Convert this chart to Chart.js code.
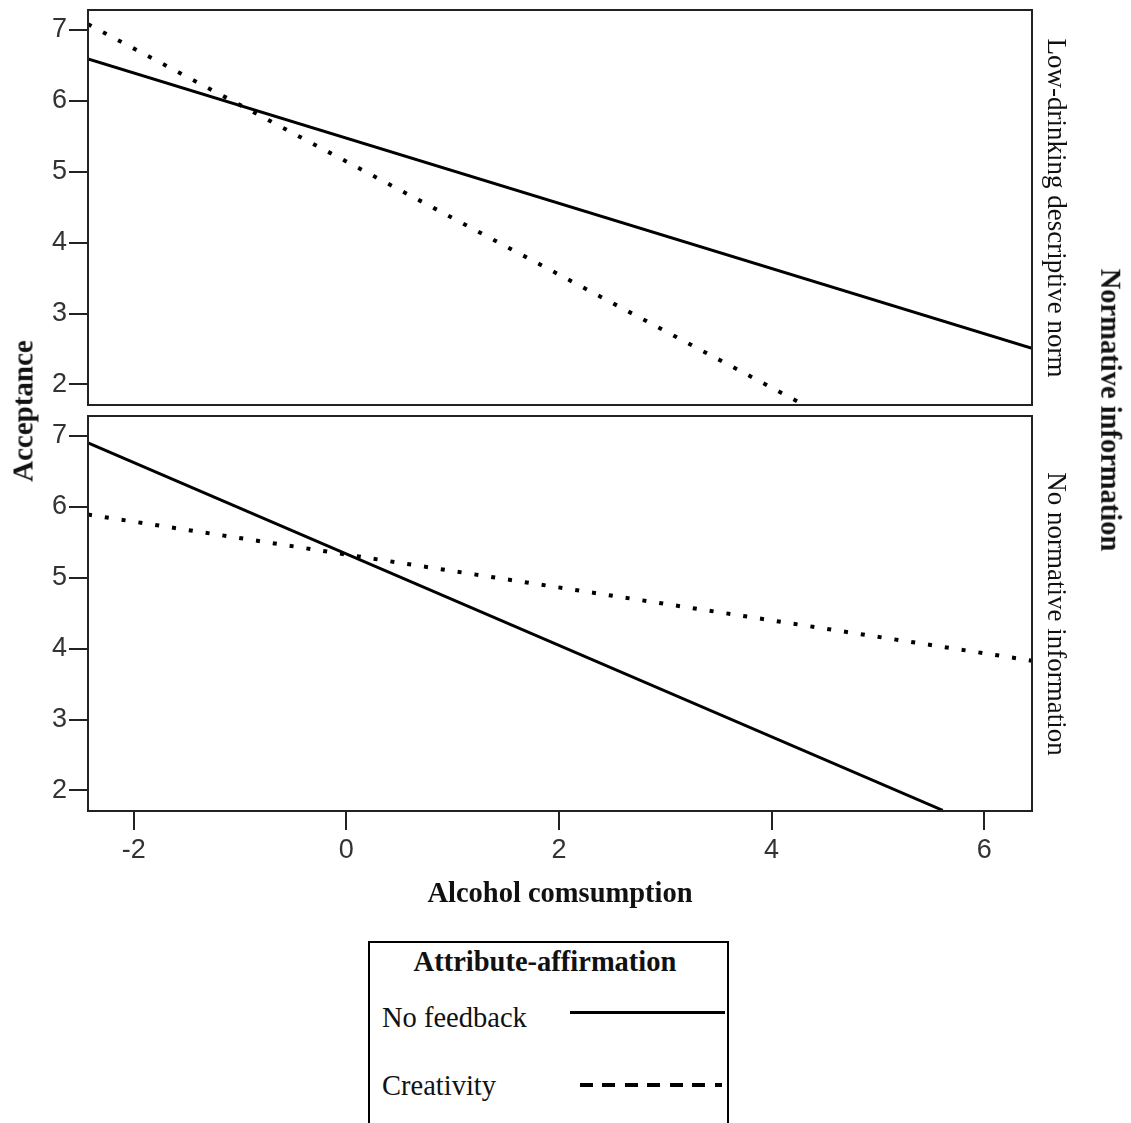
<!DOCTYPE html>
<html>
<head>
<meta charset="utf-8">
<script src="https://cdn.jsdelivr.net/npm/chart.js@4.4.1/dist/chart.umd.min.js"></script>
<style>
  body { margin: 0; background: #fff; }
  #page { position: relative; width: 1131px; height: 1123px; overflow: hidden; background: #fff; }
  canvas { position: absolute; left: 0; }
  .lbl { position: absolute; white-space: nowrap; line-height: 1; font-family: "Liberation Serif", serif; color: #111; }
  .rot { transform: translate(-50%, -50%) rotate(90deg); }
  .rotl { transform: translate(-50%, -50%) rotate(-90deg); }
  .bold { font-weight: bold; }
  #legend { position: absolute; left: 368px; top: 941px; width: 357px; height: 200px;
            border: 2px solid #000; border-bottom: none; }
</style>
</head>
<body>
<div id="page">
  <canvas id="topPanel" width="1131" height="410" style="top:0"></canvas>
  <canvas id="bottomPanel" width="1131" height="511" style="top:410px"></canvas>

  <div class="lbl bold rotl" style="left:23px; top:411px; font-size:29px">Acceptance</div>
  <div class="lbl rot" style="left:1056px; top:208px; font-size:27px">Low-drinking descriptive norm</div>
  <div class="lbl rot" style="left:1056px; top:614px; font-size:27px">No normative information</div>
  <div class="lbl bold rot" style="left:1110px; top:410px; font-size:28.5px">Normative information</div>

  <div id="legend"></div>
  <div class="lbl bold" style="left:545px; top:962px; transform:translate(-50%,-50%); font-size:28.5px">Attribute-affirmation</div>
  <div class="lbl" style="left:382px; top:1004px; font-size:28.5px">No feedback</div>
  <div style="position:absolute; left:570px; top:1011px; width:155px; height:3px; background:#000"></div>
  <div class="lbl" style="left:382px; top:1072px; font-size:28.5px">Creativity</div>
  <div style="position:absolute; left:580px; top:1083px; width:142px; height:4px;
              background:repeating-linear-gradient(to right, #000 0 13px, transparent 13px 22.5px)"></div>
</div>

<script>
// axis ranges and ticks
const xRange = [-2.43, 6.45];
const yRange = [1.71, 7.28];
const xTicks = [-2, 0, 2, 4, 6];
const yTicks = [2, 3, 4, 5, 6, 7];

// top panel: low-drinking descriptive norm
const topSolidX = [-2.43, 6.45];
const topSolidY = [6.59, 2.51];
const topDottedX = [-2.43, 4.32];
const topDottedY = [7.08, 1.70];

// bottom panel: no normative information
const botSolidX = [-2.43, 5.61];
const botSolidY = [6.90, 1.72];
const botDottedX = [-2.43, 6.45];
const botDottedY = [5.89, 3.83];

const ink = "#222";
const tickFont = { family: "'Liberation Sans', Arial, sans-serif", size: 27 };

function pts(xs, ys) {
  return xs.map((x, i) => ({ x, y: ys[i] }));
}

const frame = {
  id: "frame",
  afterDraw(chart) {
    const { ctx, chartArea: a } = chart;
    ctx.save();
    ctx.strokeStyle = ink;
    ctx.lineWidth = 2;
    ctx.strokeRect(a.left, a.top, a.right - a.left, a.bottom - a.top);
    ctx.restore();
  }
};

function solid(data) {
  return { data, borderColor: "#000", borderWidth: 3, pointRadius: 0, tension: 0 };
}
function dotted(data) {
  return { data, borderColor: "#000", borderWidth: 4, borderDash: [4, 13], pointRadius: 0, tension: 0 };
}

function makePanel(el, datasets, showX, padding) {
  return new Chart(el, {
    type: "line",
    data: { datasets },
    plugins: [frame],
    options: {
      responsive: false,
      animation: false,
      layout: { padding },
      plugins: { legend: { display: false }, tooltip: { enabled: false } },
      scales: {
        x: {
          type: "linear",
          display: showX,
          min: xRange[0],
          max: xRange[1],
          afterBuildTicks: s => { s.ticks = xTicks.map(v => ({ value: v })); },
          afterFit: s => {
            if (!showX) return;
            s.height = 110; s.paddingLeft = 0; s.paddingRight = 0;
          },
          grid: { drawOnChartArea: false, drawTicks: true, tickLength: 19, color: ink, lineWidth: 2 },
          border: { display: false },
          ticks: { font: tickFont, color: "#333", padding: 4, maxRotation: 0 },
          title: {
            display: true,
            text: "Alcohol comsumption",
            color: "#111",
            font: { family: "'Liberation Serif', serif", size: 28.5, weight: "bold" },
            padding: { top: 0, bottom: 9 }
          }
        },
        y: {
          min: yRange[0],
          max: yRange[1],
          afterBuildTicks: s => { s.ticks = yTicks.map(v => ({ value: v })); },
          afterFit: s => { s.width = 88; s.paddingTop = 0; s.paddingBottom = 0; },
          grid: { drawOnChartArea: false, drawTicks: true, tickLength: 19, color: ink, lineWidth: 2 },
          border: { display: false },
          ticks: { font: tickFont, color: "#333", padding: 2 }
        }
      }
    }
  });
}

makePanel(
  document.getElementById("topPanel"),
  [solid(pts(topSolidX, topSolidY)), dotted(pts(topDottedX, topDottedY))],
  false,
  { top: 10, right: 99, bottom: 5, left: 0 }
);

makePanel(
  document.getElementById("bottomPanel"),
  [solid(pts(botSolidX, botSolidY)), dotted(pts(botDottedX, botDottedY))],
  true,
  { top: 6, right: 99, bottom: 0, left: 0 }
);
</script>
</body>
</html>
